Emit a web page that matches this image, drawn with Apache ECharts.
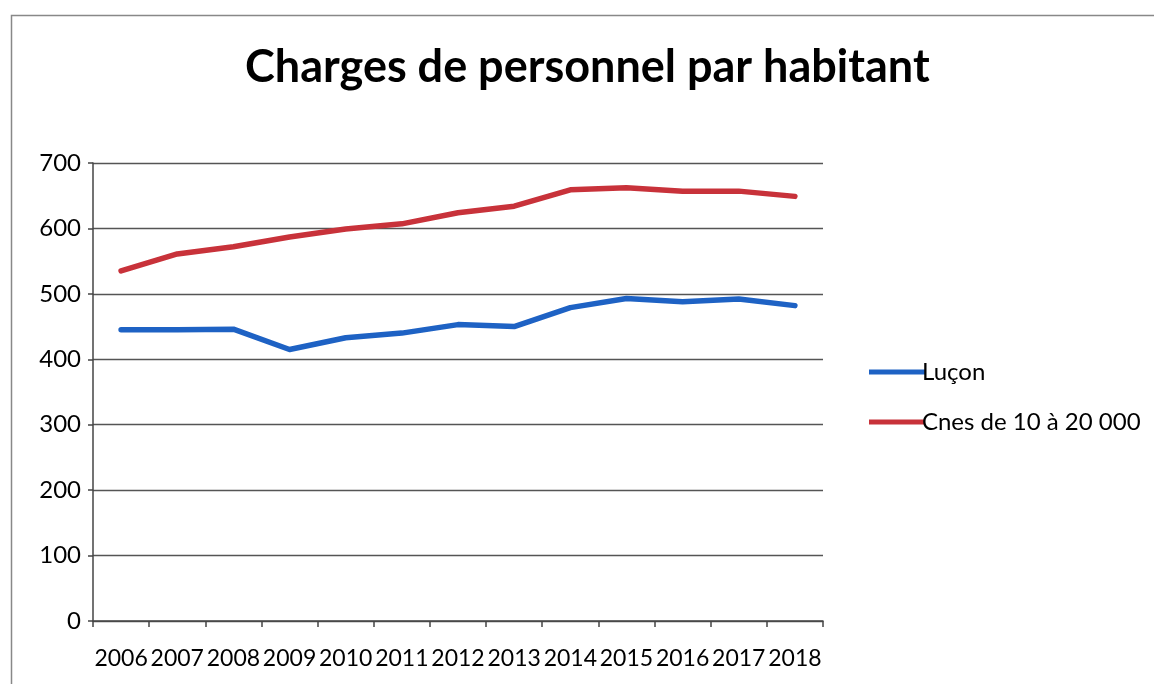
<!DOCTYPE html>
<html>
<head>
<meta charset="utf-8">
<script src="https://cdn.jsdelivr.net/npm/echarts@6/dist/echarts.min.js"></script>
<style>
html,body{margin:0;padding:0;background:#fff;}
#chart{width:1154px;height:684px;}
</style>
</head>
<body>
<div id="chart"></div>
<script>
const years = ['2006','2007','2008','2009','2010','2011','2012','2013','2014','2015','2016','2017','2018'];
const lucon = [445, 445, 446, 415, 433, 440, 453, 450, 479, 493, 488, 492, 482];
const cnes = [535, 561, 572, 587, 599, 607, 624, 634, 659, 662, 657, 657, 649];
const yTicks = [0, 100, 200, 300, 400, 500, 600, 700];
const seriesNames = ['Luçon', 'Cnes de 10 à 20 000'];

const font = 'Lato, "Open Sans", sans-serif';
const chart = echarts.init(document.getElementById('chart'), null, {renderer: 'canvas'});
chart.setOption({
  backgroundColor: '#fff',
  animation: false,
  title: {
    text: 'Charges de personnel par habitant',
    left: 245,
    top: 45,
    padding: 0,
    textStyle: {fontFamily: font, fontWeight: 'bold', fontSize: 45, color: '#000'}
  },
  graphic: [{
    type: 'rect', left: 9, top: 13, silent: true,
    shape: {width: 1170, height: 700},
    style: {fill: 'none', stroke: '#888', lineWidth: 1.5}
  }],
  legend: {
    orient: 'vertical',
    left: 864,
    top: 355,
    itemGap: 26,
    itemWidth: 56,
    itemHeight: 5,
    icon: 'rect',
    data: seriesNames,
    textStyle: {fontFamily: font, fontSize: 24, color: '#000', padding: [0, 0, 0, -8]}
  },
  grid: {left: 93, top: 163, right: 331, bottom: 63, containLabel: false},
  xAxis: {
    type: 'category',
    data: years,
    boundaryGap: true,
    axisLine: {lineStyle: {color: '#444', width: 1.5}},
    axisTick: {show: true, length: 6, lineStyle: {color: '#444', width: 1.5}},
    axisLabel: {interval: 0, fontFamily: font, fontSize: 23, color: '#000', margin: 26}
  },
  yAxis: {
    type: 'value',
    min: yTicks[0],
    max: yTicks[yTicks.length - 1],
    interval: 100,
    axisLine: {show: true, lineStyle: {color: '#444', width: 1.5}},
    axisTick: {show: true, length: 5, lineStyle: {color: '#444', width: 1.5}},
    axisLabel: {fontFamily: font, fontSize: 24, color: '#000', margin: 12},
    splitLine: {show: true, lineStyle: {color: '#555', width: 1.3}}
  },
  series: [
    {
      name: seriesNames[0], type: 'line', data: lucon,
      symbol: 'none', color: '#1e62c4',
      lineStyle: {width: 5.5, color: '#1e62c4', cap: 'round', join: 'round'}
    },
    {
      name: seriesNames[1], type: 'line', data: cnes,
      symbol: 'none', color: '#c8323a',
      lineStyle: {width: 5.5, color: '#c8323a', cap: 'round', join: 'round'}
    }
  ]
});
</script>
</body>
</html>
